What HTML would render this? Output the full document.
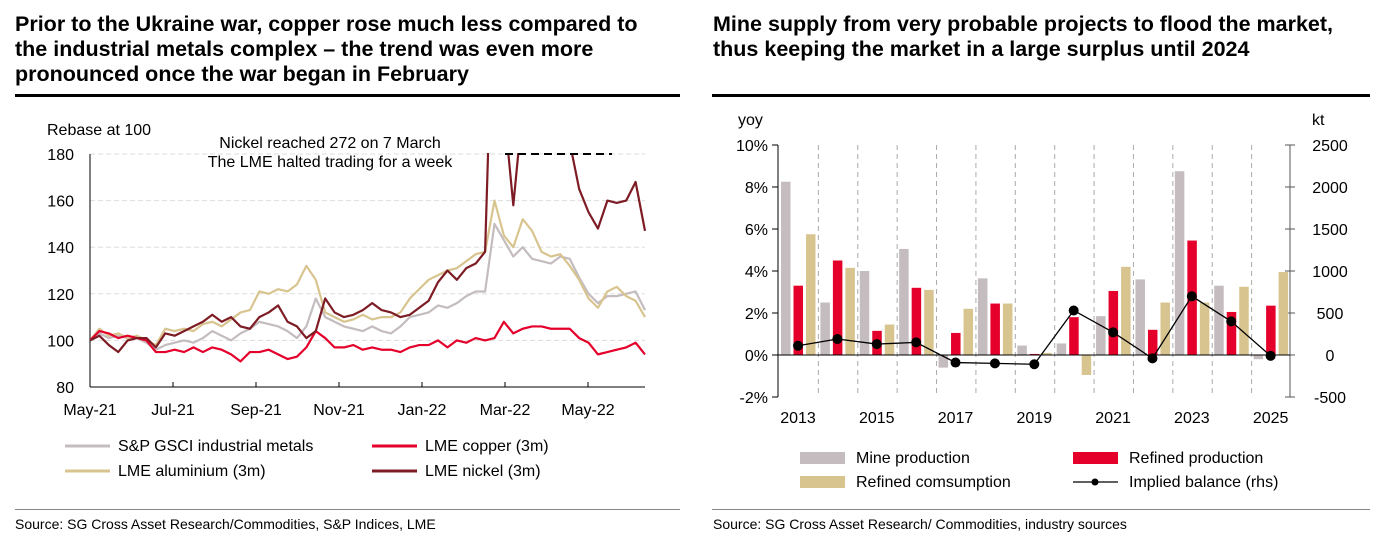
<!DOCTYPE html>
<html><head><meta charset="utf-8">
<style>
body{margin:0;background:#fff;width:1382px;height:537px;overflow:hidden;font-family:"Liberation Sans",Arial,sans-serif;}
svg{position:absolute;left:0;top:0}
.t{font-family:"Liberation Sans",sans-serif;font-weight:bold;font-size:21.5px;fill:#000}
.k{font-size:16px;fill:#000}
.s{font-size:14px;fill:#000;font-family:"Liberation Sans Narrow","Liberation Sans",sans-serif}
</style></head><body>
<svg id="c" width="1382" height="537">
<g>
<text class="t" x="15" y="31">Prior to the Ukraine war, copper rose much less compared to</text>
<text class="t" x="15" y="56">the industrial metals complex – the trend was even more</text>
<text class="t" x="15" y="81">pronounced once the war began in February</text>
</g>
<rect x="15" y="94" width="665" height="3" fill="#000"/>
<g>
<text class="t" x="713" y="31">Mine supply from very probable projects to flood the market,</text>
<text class="t" x="713" y="56">thus keeping the market in a large surplus until 2024</text>
</g>
<rect x="712" y="94" width="658" height="3" fill="#000"/>
<rect x="15" y="509" width="665" height="1" fill="#888"/>
<rect x="712" y="509" width="658" height="1" fill="#888"/>
<text class="s" x="15" y="529">Source: SG Cross Asset Research/Commodities, S&amp;P Indices, LME</text>
<text class="s" x="713" y="529">Source: SG Cross Asset Research/ Commodities, industry sources</text>
<text class="k" x="47" y="135">Rebase at 100</text>
<text class="k" x="330" y="148" text-anchor="middle">Nickel reached 272 on 7 March</text>
<text class="k" x="330" y="167" text-anchor="middle">The LME halted trading for a week</text>
<text class="k" x="738" y="125">yoy</text>
<text class="k" x="1312" y="125">kt</text>
<g id="L"></g><g id="R"></g>
</svg>
<script>
// ---- Left chart data ----
const lTicks=[80,100,120,140,160,180];
const lMonths=["May-21","Jul-21","Sep-21","Nov-21","Jan-22","Mar-22","May-22"];
const copper=[100,104,103,101,102,101,100,95,95,96,95,97,95,97,96,94,91,95,95,96,94,92,93,97,104,101,97,97,98,96,97,96,96,95,97,98,98,100,97,100,99,101,100,101,108,103,105,106,106,105,105,105,101,99,94,95,96,97,99,94];
const aluminium=[100,105,102,103,101,102,100,98,105,104,105,104,107,108,106,109,112,113,121,120,122,121,124,132,126,112,110,108,109,111,109,110,110,112,118,122,126,128,130,131,134,137,138,160,145,140,152,147,138,136,137,132,126,118,114,121,123,119,117,110];
const gsci=[100,103,101,102,101,101,99,96,98,99,100,99,101,104,102,100,103,105,108,107,106,104,101,106,118,110,108,106,105,104,106,104,103,106,110,111,112,115,114,116,119,121,121,150,143,136,140,135,134,133,136,135,127,120,116,119,119,120,121,113];
const nickel=[100,102,98,95,100,101,101,97,103,102,104,106,108,111,108,110,106,105,110,112,115,108,106,101,104,118,112,110,111,113,116,113,112,110,111,114,117,125,130,126,131,133,138,272,200,158,200,200,200,200,200,185,165,155,148,160,159,160,168,147];
// ---- Right chart data ----
const years=[2013,2014,2015,2016,2017,2018,2019,2020,2021,2022,2023,2024,2025];
const mine=[8.25,2.5,4.0,5.05,-0.6,3.65,0.45,0.55,1.85,3.6,8.75,3.3,-0.2];
const refined=[3.3,4.5,1.15,3.2,1.05,2.45,0.05,1.8,3.05,1.2,5.45,2.05,2.35];
const consumption=[5.75,4.15,1.45,3.1,2.2,2.45,0.1,-0.95,4.2,2.5,2.5,3.25,3.95];
const balance=[110,190,130,150,-90,-100,-110,530,270,-40,700,400,-10];
const rTicks=[-2,0,2,4,6,8,10];
const r2Ticks=[-500,0,500,1000,1500,2000,2500];

const NS="http://www.w3.org/2000/svg";
function mk(p,tag,at,txt){const e=document.createElementNS(NS,tag);for(const k in at)e.setAttribute(k,at[k]);if(txt!=null)e.textContent=txt;p.appendChild(e);return e;}
const L=document.getElementById('L'),R=document.getElementById('R');
const lx0=90,lx1=645,ly=v=>387-(v-80)*(233/100);
const lxi=i=>lx0+i*(lx1-lx0)/(copper.length-1);
const monthX=i=>lx0+i*83;
mk(L,'clipPath',{id:'lc'});mk(document.getElementById('lc'),'rect',{x:lx0,y:ly(180)-1,width:lx1-lx0+2,height:ly(80)-ly(180)+1});
lTicks.forEach(v=>{
 if(v>80){const g=mk(L,'line',{x1:lx0,x2:lx1,y1:ly(v),y2:ly(v),stroke:'#ddd','stroke-dasharray':'5,3'});
 
 }
 const t=mk(L,'text',{x:lx0-16,y:ly(v)+6,'text-anchor':'end',class:'k'},v);
 
 
});
mk(L,'line',{x1:lx0,x2:lx0,y1:ly(180),y2:ly(80),stroke:'#000'});
mk(L,'line',{x1:lx0,x2:lx1,y1:ly(80),y2:ly(80),stroke:'#000'});
lMonths.forEach((m,i)=>{
 mk(L,'line',{x1:monthX(i),x2:monthX(i),y1:ly(80),y2:ly(80)-5,stroke:'#000'});
 const t=mk(L,'text',{x:monthX(i),y:415,'text-anchor':'middle',class:'k'},m);
 
 
});
const lseries=[[gsci,'#c4bcbf','gsci-line'],[aluminium,'#d8c48f','aluminium-line'],[copper,'#e4002b','copper-line'],[nickel,'#7d1c24','nickel-line']];
lseries.forEach(([d,c,n])=>{
 const p=mk(L,'polyline',{points:d.map((v,i)=>lxi(i)+','+ly(v)).join(' '),fill:'none',stroke:c,'stroke-width':2.2,'clip-path':'url(#lc)','stroke-linejoin':'round'});
 
 
});
mk(L,'line',{x1:505,x2:612,y1:ly(180),y2:ly(180),stroke:'#000','stroke-width':2,'stroke-dasharray':'8,5'});
[[ '#c4bcbf','S&P GSCI industrial metals',65,446],['#e4002b','LME copper (3m)',372,446],['#d8c48f','LME aluminium (3m)',65,471],['#7d1c24','LME nickel (3m)',372,471]].forEach(([c,t,x,y])=>{
 const g=mk(L,'g',{});
 
 
 mk(g,'line',{x1:x,x2:x+45,y1:y,y2:y,stroke:c,'stroke-width':3});
 mk(g,'text',{x:x+53,y:y+5,class:'k'},t);
});
const rx0=778,rx1=1290,gw=(rx1-rx0)/years.length;
const ry=v=>355-v*21;const ry2=v=>355-v*42/500;
rTicks.forEach(v=>{
 mk(R,'line',{x1:rx0-6,x2:rx0,y1:ry(v),y2:ry(v),stroke:'#000'});
 const t=mk(R,'text',{x:rx0-10,y:ry(v)+6,'text-anchor':'end',class:'k'},v+'%');
 
 
});
r2Ticks.forEach(v=>{
 mk(R,'line',{x1:rx1-5,x2:rx1+5,y1:ry2(v),y2:ry2(v),stroke:'#555'});
 const t=mk(R,'text',{x:rx1+40,y:ry2(v)+6,'text-anchor':'middle',class:'k'},v);
 
 
});
for(let i=1;i<years.length;i++){mk(R,'line',{x1:rx0+i*gw+1,x2:rx0+i*gw+1,y1:ry(10),y2:ry(-2),stroke:'#aaa','stroke-dasharray':'5,4'});}
years.forEach((y,i)=>{
 const gx=rx0+i*gw;
 [[mine,'#c4bcbf','mine-bar',3],[refined,'#e4002b','refined-bar',15.5],[consumption,'#d8c48f','consumption-bar',28]].forEach(([d,c,n,o])=>{
  const v=d[i];const b=mk(R,'rect',{x:gx+o,y:Math.min(ry(v),ry(0)),width:9.5,height:Math.abs(ry(v)-ry(0)),fill:c});
  
  
 });
 if(i%2==0){const t=mk(R,'text',{x:gx+20,y:423,'text-anchor':'middle',class:'k'},y);
 
 }
});
mk(R,'line',{x1:rx0,x2:rx0,y1:ry(10),y2:ry(-2),stroke:'#000'});
mk(R,'line',{x1:rx1,x2:rx1,y1:ry(10),y2:ry(-2),stroke:'#555'});
mk(R,'line',{x1:rx0,x2:rx1,y1:ry(0),y2:ry(0),stroke:'#000'});
const bl=mk(R,'polyline',{points:balance.map((v,i)=>(rx0+i*gw+20)+','+ry2(v)).join(' '),fill:'none',stroke:'#000','stroke-width':1.3});


balance.forEach((v,i)=>{const c=mk(R,'circle',{cx:rx0+i*gw+20,cy:ry2(v),r:5,fill:'#000'});
 
 });
[['#c4bcbf','Mine production',800,458,0],['#e4002b','Refined production',1073,458,0],['#d8c48f','Refined comsumption',800,482,0],['#000','Implied balance (rhs)',1073,482,1]].forEach(([c,t,x,y,ln])=>{
 const g=mk(R,'g',{});
 
 
 if(ln){mk(g,'line',{x1:x,x2:x+45,y1:y,y2:y,stroke:'#000','stroke-width':1.3});mk(g,'circle',{cx:x+22,cy:y,r:3.5,fill:'#000'});}
 else mk(g,'rect',{x:x,y:y-6,width:45,height:12,fill:c});
 mk(g,'text',{x:x+56,y:y+5,class:'k'},t);
});
</script>
</body></html>
